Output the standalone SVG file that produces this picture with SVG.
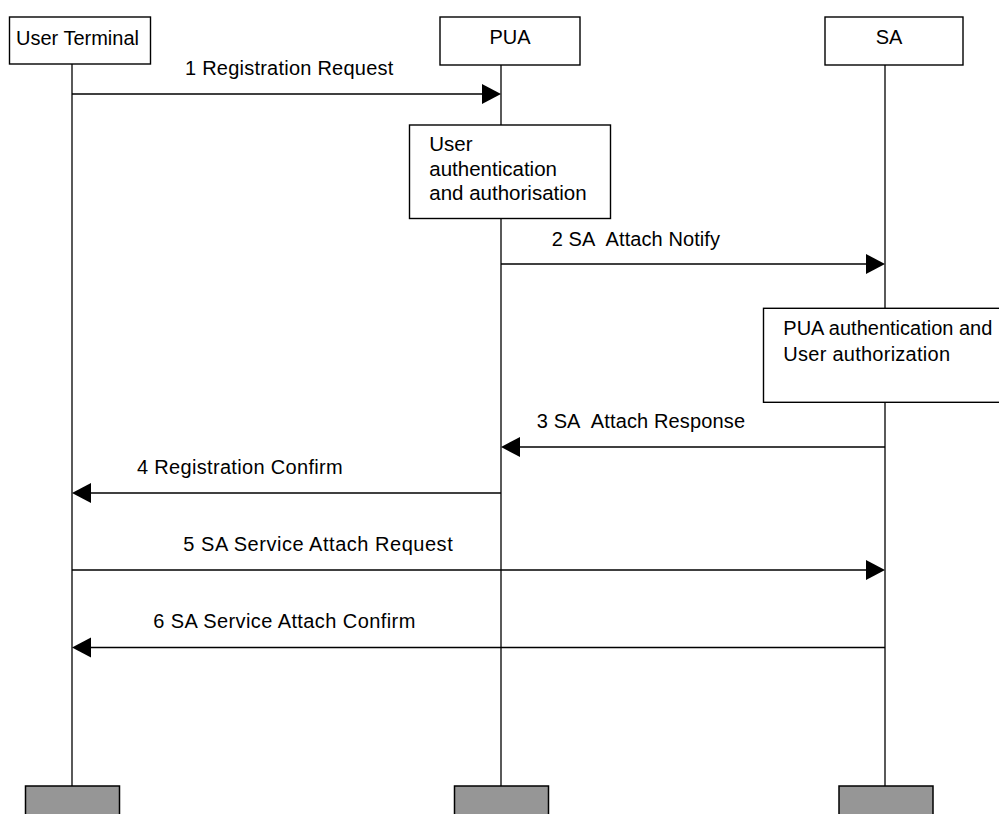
<svg xmlns="http://www.w3.org/2000/svg" width="999" height="814" viewBox="0 0 999 814">
<style>
.box{fill:#fff;stroke:#000;stroke-width:1.4}
.end{fill:#969696;stroke:#000;stroke-width:1.5}
.life{stroke:#000;stroke-width:1.3;fill:none}
.msg{stroke:#000;stroke-width:1.3;fill:none}
.head{fill:#000;stroke:none}
text{font-family:"Liberation Sans",Arial,sans-serif;font-size:20px;fill:#000}
.note{font-size:20.5px}
.note2{font-size:20px}
</style>
<rect width="999" height="814" fill="#fff"/>
<g id="lifelines">
<line class="life" x1="72" y1="64" x2="72" y2="786"/>
<line class="life" x1="501" y1="65" x2="501" y2="125"/>
<line class="life" x1="501" y1="219" x2="501" y2="786"/>
<line class="life" x1="885" y1="65" x2="885" y2="308"/>
<line class="life" x1="885" y1="402" x2="885" y2="786"/>
</g>
<g id="ut">
<rect class="box" x="9.5" y="17" width="141" height="47"/>
<text x="16" y="44.5">User Terminal</text>
<rect class="end" x="25.5" y="786" width="94" height="30"/>
</g>
<g id="pua">
<rect class="box" x="440" y="17" width="140" height="48"/>
<text x="510" y="43.5" text-anchor="middle">PUA</text>
<rect class="end" x="454.5" y="786" width="94" height="30"/>
</g>
<g id="sa">
<rect class="box" x="825" y="17" width="138" height="48"/>
<text x="889" y="43.5" text-anchor="middle">SA</text>
<rect class="end" x="839" y="786" width="94" height="30"/>
</g>
<g id="note-pua">
<rect class="box" x="409.5" y="125" width="201" height="93.5"/>
<text class="note" x="429.3" y="150.7">User</text>
<text class="note" x="429.3" y="175.7">authentication</text>
<text class="note" x="429.3" y="199.5" textLength="157.3" lengthAdjust="spacing">and authorisation</text>
</g>
<g id="note-sa">
<rect class="box" x="763.5" y="308.3" width="250" height="94"/>
<text class="note2" x="783.3" y="335">PUA authentication and</text>
<text class="note2" x="783.3" y="361" textLength="166.7" lengthAdjust="spacing">User authorization</text>
</g>
<g id="connectors">
<line class="msg" x1="72" y1="94" x2="484" y2="94"/>
<polygon class="head" points="482,84 501,94 482,104"/>
<text x="185" y="75" textLength="208.3" lengthAdjust="spacing">1 Registration Request</text>
<line class="msg" x1="501" y1="264" x2="868" y2="264"/>
<polygon class="head" points="866,254 885,264 866,274"/>
<text x="551.7" y="245.5" textLength="168.3" lengthAdjust="spacing">2 SA&#160; Attach Notify</text>
<line class="msg" x1="885" y1="447" x2="518" y2="447"/>
<polygon class="head" points="520,437 501,447 520,457"/>
<text x="536.7" y="428" textLength="208.3" lengthAdjust="spacing">3 SA&#160; Attach Response</text>
<line class="msg" x1="501" y1="493" x2="89" y2="493"/>
<polygon class="head" points="91,483 72,493 91,503"/>
<text x="137" y="473.5" textLength="205.7" lengthAdjust="spacing">4 Registration Confirm</text>
<line class="msg" x1="72" y1="570" x2="868" y2="570"/>
<polygon class="head" points="866,560 885,570 866,580"/>
<text x="183.3" y="550.5" textLength="269.4" lengthAdjust="spacing">5 SA Service Attach Request</text>
<line class="msg" x1="885" y1="647.5" x2="89" y2="647.5"/>
<polygon class="head" points="91,637.5 72,647.5 91,657.5"/>
<text x="153.3" y="627.5" textLength="262" lengthAdjust="spacing">6 SA Service Attach Confirm</text>
</g>
</svg>
